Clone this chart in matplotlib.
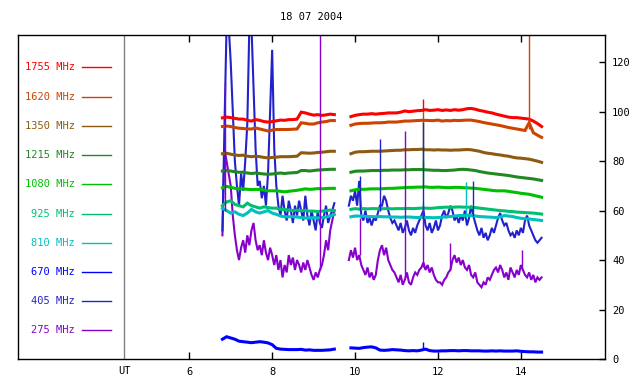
import numpy as np
import matplotlib
matplotlib.use('Agg')
import matplotlib.pyplot as plt

title = "18 07 2004"
x_ticks = [6, 8, 10, 12, 14]
y_ticks = [0, 20, 40, 60, 80, 100, 120]
ut_hour = 4.43

labels = ['1755 MHz', '1620 MHz', '1350 MHz', '1215 MHz', '1080 MHz',
          '925 MHz', '810 MHz', '670 MHz', '405 MHz', '275 MHz']
colors = ['#ff0000', '#cc4400', '#8c5a10', '#228822', '#00c000',
          '#00c070', '#00c0c0', '#0000ff', '#2222cc', '#8800cc']

# coarse time grid (hours UT) for the smoother channels
t1 = np.round(np.arange(6.8, 9.5001, 0.1), 2)     # 28 points
t2 = np.round(np.arange(9.9, 14.5001, 0.1), 2)    # 47 points
# fine time grid for the very variable channels
f1 = np.round(np.arange(6.80, 9.5001, 0.05), 2)   # 55 points
f2 = np.round(np.arange(9.85, 14.5001, 0.05), 2)  # 94 points

s1755_a = [97.5, 97.8, 97.6, 97.3, 97.0, 97.0, 96.5, 96.2, 96.8, 96.5,
           96.0, 95.8, 96.0, 96.3, 96.6, 96.5, 96.8, 96.8, 97.0, 99.8,
           99.5, 99.0, 98.6, 98.8, 98.5, 98.7, 99.0, 98.8]
s1755_b = [98.0, 98.5, 98.8, 99.0, 99.0, 99.2, 99.0, 99.2, 99.3, 99.5,
           99.5, 99.5, 99.8, 100.3, 100.0, 100.2, 100.4, 100.5, 100.8, 100.5,
           100.6, 100.8, 100.5, 100.7, 100.5, 100.8, 100.6, 100.8, 101.2, 101.3,
           101.0, 100.5, 100.2, 99.8, 99.5, 99.0, 98.6, 98.2, 97.8, 97.6,
           97.6, 97.4, 97.2, 97.0, 96.2, 95.2, 94.0]

s1620_a = [94.0, 94.2, 94.0, 93.6, 93.3, 93.2, 93.0, 93.0, 93.4, 93.0,
           92.6, 92.2, 92.5, 92.8, 92.8, 92.8, 92.8, 92.9, 93.0, 95.5,
           95.3, 95.0, 95.0, 95.5, 95.8, 96.0, 96.4, 96.4]
s1620_b = [94.5, 95.0, 95.2, 95.3, 95.3, 95.4, 95.5, 95.5, 95.6, 95.8,
           95.8, 95.8, 96.0, 96.2, 96.2, 96.3, 96.4, 96.5, 96.5, 96.4,
           96.4, 96.6, 96.2, 96.4, 96.3, 96.5, 96.4, 96.5, 96.6, 96.6,
           96.3, 96.0, 95.6, 95.3, 95.0, 94.7, 94.4, 94.0, 93.6, 93.3,
           93.0, 92.7, 92.4, 95.5, 91.5, 90.5, 89.6]

s1350_a = [83.0, 83.2, 82.8, 82.5, 82.3, 82.4, 82.0, 81.8, 82.0, 81.8,
           81.5, 81.3, 81.5, 81.6, 81.8, 81.8, 81.8, 81.9, 82.0, 83.4,
           83.3, 83.2, 83.3, 83.5, 83.6, 83.8, 84.0, 84.0]
s1350_b = [83.0, 83.6, 83.8, 83.8, 83.9, 84.0, 84.0, 84.0, 84.1, 84.2,
           84.3, 84.4, 84.4, 84.6, 84.6, 84.7, 84.7, 84.8, 84.6, 84.6,
           84.5, 84.6, 84.5, 84.5, 84.4, 84.5, 84.5, 84.6, 84.7, 84.6,
           84.3, 84.0, 83.5, 83.2, 83.0, 82.7, 82.5, 82.2, 82.0, 81.6,
           81.3, 81.2, 81.0, 80.8, 80.4, 80.0, 79.5]

s1215_a = [76.0, 76.2, 76.0, 75.7, 75.5, 75.5, 75.2, 75.0, 75.2, 75.0,
           74.8, 74.7, 74.8, 75.0, 75.2, 75.0, 75.2, 75.3, 75.4, 76.2,
           76.2, 76.0, 76.2, 76.4, 76.5, 76.6, 76.7, 76.7]
s1215_b = [75.5, 75.9, 76.0, 76.0, 76.1, 76.2, 76.2, 76.2, 76.3, 76.3,
           76.4, 76.4, 76.4, 76.5, 76.5, 76.6, 76.6, 76.6, 76.5, 76.4,
           76.3, 76.3, 76.2, 76.2, 76.3, 76.4, 76.6, 76.7, 76.6, 76.4,
           76.2, 75.8, 75.5, 75.2, 75.0, 74.8, 74.6, 74.4, 74.2, 73.9,
           73.6, 73.4, 73.2, 73.0, 72.8, 72.5, 72.2]

s1080_a = [69.2, 69.8, 69.4, 69.0, 68.8, 68.8, 68.6, 68.5, 68.6, 68.5,
           68.3, 68.0, 68.0, 68.0, 67.8, 67.6, 67.8, 68.0, 68.2, 68.5,
           68.8, 68.6, 68.7, 68.9, 68.8, 68.9, 69.0, 69.0]
s1080_b = [68.0, 68.4, 68.6, 68.6, 68.7, 68.8, 68.8, 68.8, 68.9, 69.0,
           69.0, 69.1, 69.2, 69.3, 69.4, 69.4, 69.5, 69.5, 69.6, 69.4,
           69.4, 69.5, 69.4, 69.3, 69.3, 69.4, 69.4, 69.3, 69.2, 69.1,
           69.0, 68.8, 68.6, 68.4, 68.2, 68.0, 68.0, 68.0, 67.8, 67.5,
           67.3, 67.0, 66.8, 66.6, 66.2, 65.8, 65.4]

s925_a = [62.0, 63.5, 64.0, 62.5, 62.0, 61.5, 63.0, 62.0, 61.5, 61.0,
          61.5, 61.2, 61.0, 61.0, 60.5, 60.5, 60.2, 60.0, 60.2, 60.0,
          60.0, 59.8, 59.8, 59.6, 59.8, 60.0, 60.2, 60.0]
s925_b = [60.5, 60.8, 60.6, 60.8, 60.7, 60.8, 60.8, 60.7, 60.8, 60.8,
          60.7, 60.8, 60.8, 60.8, 60.9, 60.8, 60.9, 61.0, 61.0, 60.9,
          61.0, 61.2, 61.3, 61.4, 61.3, 61.4, 61.5, 61.4, 61.4, 61.3,
          61.2, 61.0, 60.8, 60.6, 60.4, 60.2, 60.0, 59.9, 59.7, 59.6,
          59.4, 59.3, 59.2, 59.1, 59.0, 58.8, 58.6]

s810_a = [61.0, 60.0, 59.0, 59.5, 58.5, 58.0, 59.0, 60.5, 59.5, 59.0,
          59.5, 60.0, 59.0, 58.5, 57.8, 57.5, 57.5, 57.6, 57.4, 57.2,
          57.0, 57.0, 57.2, 57.0, 57.2, 57.4, 57.8, 58.4]
s810_b = [57.5, 57.8, 57.8, 57.7, 57.6, 57.6, 57.5, 57.6, 57.5, 57.5,
          57.4, 57.4, 57.3, 57.4, 57.4, 57.3, 57.2, 57.3, 57.2, 57.2,
          57.1, 57.2, 57.3, 57.5, 57.6, 57.8, 58.0, 58.0, 58.1, 58.0,
          57.8, 57.6, 57.5, 57.4, 57.3, 57.2, 57.4, 58.0, 57.8, 57.6,
          57.2, 56.9, 56.7, 56.6, 56.4, 56.2, 56.0]

s670_a = [8.0, 9.0, 8.5, 8.0, 7.2, 7.0, 6.8, 6.6, 6.8, 7.0,
          6.8, 6.5, 5.8, 4.3, 4.0, 3.9, 3.8, 3.8, 3.8, 3.9,
          3.6, 3.7, 3.5, 3.5, 3.5, 3.6, 3.7, 4.0]
s670_b = [4.5, 4.4, 4.3, 4.6, 4.8, 4.9, 4.5, 3.6, 3.5, 3.6,
          3.8, 3.7, 3.6, 3.4, 3.3, 3.4, 3.3, 3.6, 4.0, 3.4,
          3.2, 3.2, 3.3, 3.3, 3.4, 3.4, 3.3, 3.4, 3.4, 3.3,
          3.3, 3.3, 3.2, 3.2, 3.3, 3.2, 3.3, 3.2, 3.2, 3.2,
          3.3, 3.1, 3.0, 2.9, 2.9, 2.8, 2.8]

# fine-grid channels
s405_a = [52, 95, 135, 135, 120, 100, 80, 70, 62, 75,
          68, 80, 95, 135, 135, 110, 85, 70, 72, 65,
          70, 62, 75, 100, 125, 85, 70, 62, 58, 66,
          60, 56, 64, 60, 55, 62, 58, 64, 60, 56,
          66, 58, 54, 60, 56, 52, 60, 55, 53, 58,
          62, 55, 58, 60, 63]
s405_b = [62, 66, 64, 68, 62, 72, 58, 56, 60, 55,
          57, 54, 57, 56, 59, 62, 62, 66, 64, 60,
          57, 55, 56, 54, 52, 55, 51, 53, 56, 52,
          50, 53, 51, 54, 56, 58, 60, 54, 52, 55,
          51, 53, 56, 52, 54, 58, 60, 57, 59, 62,
          60, 56, 58, 55, 58, 56, 60, 54, 57, 62,
          58, 55, 52, 50, 53, 49, 51, 48, 50, 53,
          51, 54, 57, 59, 56, 54, 55, 52, 50, 51,
          49, 52, 50, 53, 51, 56, 58, 54, 52, 50,
          48, 47, 48, 49]

s275_a = [50, 85, 80, 75, 70, 58, 50, 44, 40, 45,
          48, 43, 50, 46, 52, 55, 48, 44, 46, 42,
          48, 43, 40, 45, 42, 38, 42, 36, 40, 33,
          38, 35, 42, 38, 41, 36, 40, 38, 35, 39,
          36, 40, 37, 34, 32, 35, 33, 36, 38, 42,
          48, 44, 52, 56, 60]
s275_b = [40, 44, 41, 45, 40, 42, 38, 36, 34, 37,
          33, 35, 32, 34, 40, 44, 46, 42, 45, 40,
          38, 36, 35, 33, 31, 34, 30, 32, 35, 31,
          30, 33, 35, 34, 36, 37, 39, 36, 38, 35,
          37, 34, 32, 31, 31, 30, 32, 33, 35, 36,
          40, 42, 39, 41, 38, 40, 37, 36, 38, 34,
          33, 35, 31, 30, 29, 31, 30, 33, 32, 34,
          36, 37, 35, 38, 36, 33, 35, 32, 37, 35,
          33, 36, 34, 38, 36, 34, 33, 35, 32, 34,
          31, 33, 32, 33]

series = [(s1755_a, s1755_b, 'c'), (s1620_a, s1620_b, 'c'), (s1350_a, s1350_b, 'c'),
          (s1215_a, s1215_b, 'c'), (s1080_a, s1080_b, 'c'), (s925_a, s925_b, 'c'),
          (s810_a, s810_b, 'c'), (s670_a, s670_b, 'c'), (s405_a, s405_b, 'f'),
          (s275_a, s275_b, 'f')]

# short bursts: time, low value, high value, channel index
spike_t = [14.19, 11.63, 11.63, 11.63, 11.63, 11.63, 11.63, 12.67, 11.65,
           10.12, 10.60, 11.63, 12.85, 6.86, 9.16, 10.12, 11.20, 11.63, 12.30, 14.02]
spike_lo = [93, 100, 96, 84, 76, 69, 60, 57, 3.5,
            60, 60, 56, 58, 60, 36, 42, 33, 37, 36, 36]
spike_hi = [140, 105, 100, 96, 86, 80, 63, 71.5, 7.0,
            74, 89, 96, 72, 112, 140, 57, 92, 62, 47, 44]
spike_ch = [1, 0, 1, 2, 3, 4, 5, 6, 7,
            8, 8, 8, 8, 9, 9, 9, 9, 9, 9, 9]

fig = plt.figure(figsize=(6.4, 3.84), dpi=100)
ax = fig.add_axes([18.3 / 640, 25 / 384, 586.7 / 640, 324 / 384])
mono = 'DejaVu Sans Mono'

for i in range(len(series) - 1, -1, -1):
    a, b, kind = series[i]
    if kind == 'c':
        t = np.concatenate([t1, [np.nan], t2])
        lw = 2.2
    else:
        t = np.concatenate([f1, [np.nan], f2])
        lw = 1.5
    v = np.concatenate([a, [np.nan], b])
    ax.plot(t, v, color=colors[i], lw=lw, solid_joinstyle='miter')

for t, lo, hi, ch in zip(spike_t, spike_lo, spike_hi, spike_ch):
    ax.vlines(t, lo, hi, color=colors[ch], lw=1.0)

ax.axvline(ut_hour, color='#808080', lw=1.0)

ax.set_xlim(1.875, 16.03)
ax.set_ylim(0, 131)
ax.set_xticks(x_ticks)
ax.set_xticklabels([str(x) for x in x_ticks], fontfamily=mono, fontsize=7.5)
ax.set_yticks(y_ticks)
ax.set_yticklabels([str(y) for y in y_ticks], fontfamily=mono, fontsize=7.5)
ax.yaxis.tick_right()
ax.tick_params(axis='x', direction='in', length=5, width=1, top=True, bottom=True, pad=6)
ax.tick_params(axis='y', direction='in', length=4, width=1, left=False, right=True, pad=5)
for sp in ax.spines.values():
    sp.set_linewidth(1.0)
    sp.set_color('black')

fig.text(311.5 / 640, 1 - 17 / 384, title, ha='center', va='center',
         fontfamily=mono, fontsize=7.5)
ax.text(ut_hour, -0.037, 'UT', transform=ax.get_xaxis_transform(),
        ha='center', va='center', fontfamily=mono, fontsize=7.5)

# channel key on the left
for i, (lab, col) in enumerate(zip(labels, colors)):
    yy = 0.900 - i * 0.0902
    ax.text(0.0966, yy, lab, transform=ax.transAxes, ha='right', va='center',
            color=col, fontfamily=mono, fontsize=7.5)
    ax.plot([0.1086, 0.158], [yy, yy], transform=ax.transAxes, color=col, lw=1.0)

fig.savefig('out.png', dpi=100)
